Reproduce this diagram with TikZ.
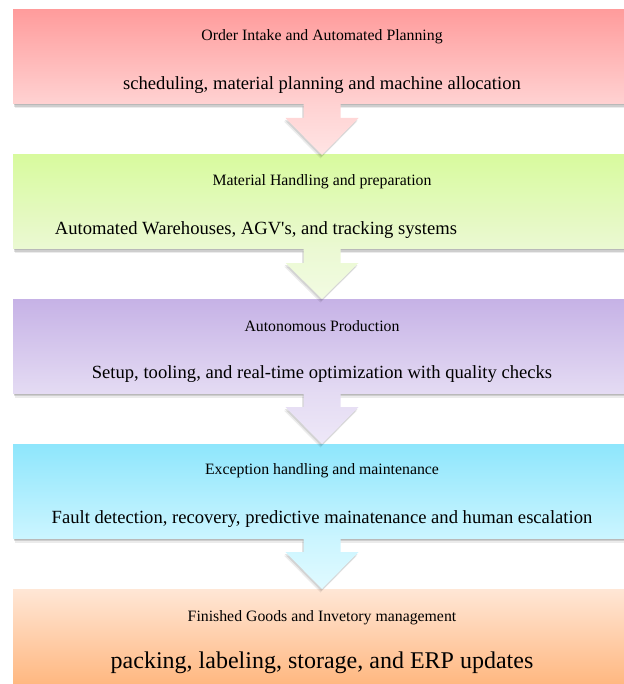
\documentclass[tikz,border=0pt]{standalone}
\usepackage{fontspec}
\setmainfont{Liberation Serif}
% straight typewriter apostrophe, set as a glyph so no ligature mapping turns it curly
\newcommand{\straightquote}{\XeTeXglyph\XeTeXcharglyph"0027\relax}
\begin{document}
\begin{tikzpicture}[x=1pt,y=-1pt,
  stage/.style={minimum width=618pt,minimum height=94pt,inner sep=0pt,outer sep=0pt,
    preaction={fill=black,opacity=0.10,transform canvas={xshift=0.5pt,yshift=-1.5pt}},
    preaction={fill=black,opacity=0.12,transform canvas={xshift=1pt,yshift=-3pt}},
    preaction={fill=black,opacity=0.08,transform canvas={xshift=1.5pt,yshift=-4.5pt}}},
  ttl/.style={inner sep=0pt,font=\fontsize{15.8}{18}\selectfont},
  sub/.style={inner sep=0pt,font=\fontsize{18.6}{22}\selectfont},
  bigsub/.style={inner sep=0pt,font=\fontsize{24}{28}\selectfont},
  flow/.style={
    preaction={fill=black,opacity=0.10,transform canvas={xshift=-0.8pt,yshift=-2pt}},
    preaction={fill=black,opacity=0.08,transform canvas={xshift=-1.5pt,yshift=-3.5pt}}}
]
\definecolor{redT}{HTML}{FF9C9C}\definecolor{redB}{HTML}{FFD2D2}\definecolor{redA}{HTML}{FFE4E4}
\definecolor{grnT}{HTML}{D8FA9E}\definecolor{grnB}{HTML}{EBF9D3}\definecolor{grnA}{HTML}{F2FBE2}
\definecolor{vioT}{HTML}{C6B2E6}\definecolor{vioB}{HTML}{E4DBF3}\definecolor{vioA}{HTML}{EEE8F8}
\definecolor{cyaT}{HTML}{8EE6FC}\definecolor{cyaB}{HTML}{CBF5FF}\definecolor{cyaA}{HTML}{E0FAFF}
\definecolor{orgT}{HTML}{FFE7D6}\definecolor{orgB}{HTML}{FFB57C}

\useasboundingbox (0,0) rectangle (623,684);

% stage boxes (they run past the right edge of the page)
\node[stage,top color=redT,bottom color=redB] (b1) at (322,57) {};
\node[stage,top color=grnT,bottom color=grnB] (b2) at (322,202) {};
\node[stage,top color=vioT,bottom color=vioB] (b3) at (322,346) {};
\node[stage,top color=cyaT,bottom color=cyaB] (b4) at (322,491) {};
\node[stage,top color=orgT,bottom color=orgB,minimum height=100pt] (b5) at (322,639) {};

% block arrows between the stages
\foreach \a/\b/\c/\d in {b1/b2/redB/redA,b2/b3/grnB/grnA,b3/b4/vioB/vioA,b4/b5/cyaB/cyaA}{
  \path[flow,top color=\c,bottom color=\d]
    ([xshift=-18.5pt]\a.south) -- ([xshift=-18.5pt,yshift=-14pt]\a.south)
    -- ([xshift=-36.5pt,yshift=-14pt]\a.south) -- (\b.north)
    -- ([xshift=36.5pt,yshift=-14pt]\a.south) -- ([xshift=18.5pt,yshift=-14pt]\a.south)
    -- ([xshift=18.5pt]\a.south) -- cycle;
}

% texts
\node[ttl] (t1) at ([yshift=-27pt]b1.north) {Order Intake and Automated Planning};
\node[sub] (s1) at ([yshift=-75pt]b1.north) {scheduling, material planning and machine allocation};
\node[ttl] (t2) at ([yshift=-27pt]b2.north) {Material Handling and preparation};
\node[sub] (s2) at ([xshift=-66pt,yshift=-75pt]b2.north) {Automated Warehouses, AGV\straightquote s, and tracking systems};
\node[ttl] (t3) at ([yshift=-27pt]b3.north) {Autonomous Production};
\node[sub] (s3) at ([yshift=-75pt]b3.north) {Setup, tooling, and real-time optimization with quality checks};
\node[ttl] (t4) at ([yshift=-27pt]b4.north) {Exception handling and maintenance};
\node[sub] (s4) at ([yshift=-75pt]b4.north) {Fault detection, recovery, predictive mainatenance and human escalation};
\node[ttl] (t5) at ([yshift=-28.5pt]b5.north) {Finished Goods and Invetory management};
\node[bigsub] (s5) at ([yshift=-73.5pt]b5.north) {packing, labeling, storage, and ERP updates};
\end{tikzpicture}
\end{document}
